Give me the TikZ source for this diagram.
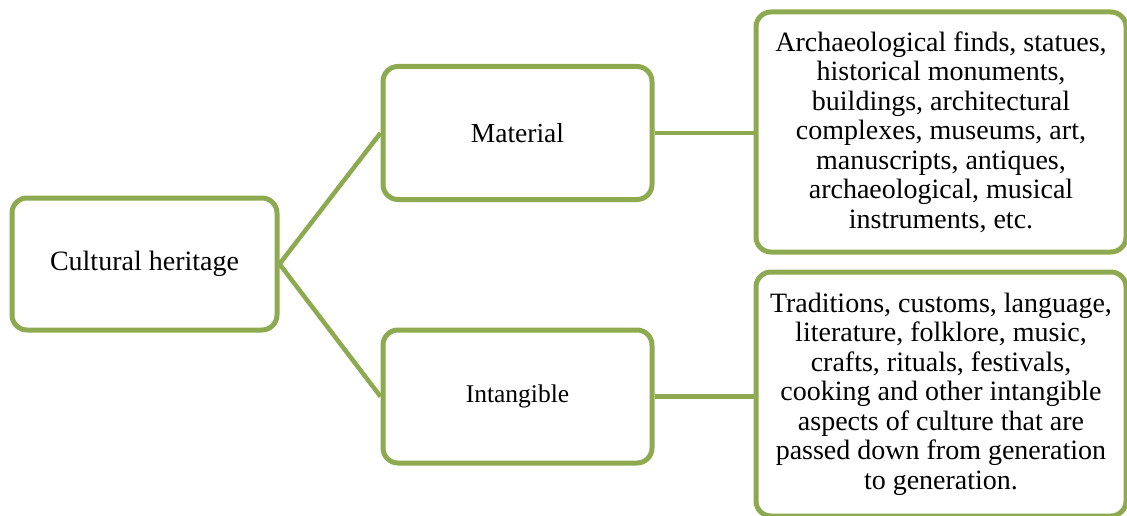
\documentclass[tikz,border=0pt]{standalone}
\usepackage{fontspec}
\setmainfont{Liberation Serif}
\definecolor{olivegreen}{HTML}{8DAA50}
\begin{document}
\begin{tikzpicture}[x=1pt,y=-1pt,
  box/.style={draw=olivegreen,line width=5pt,rounded corners=15pt,fill=white,
    inner sep=0pt,align=center,text=black},
  link/.style={draw=olivegreen,line width=4.5pt}]
\useasboundingbox (0,0) rectangle (1127,516);
\node[box,minimum width=265pt,minimum height=132pt,font=\fontsize{28}{32}\selectfont] (ch) at (144.5,264) {Cultural heritage};
\node[box,minimum width=269pt,minimum height=133pt,font=\fontsize{27.5}{32}\selectfont] (mat) at (517.5,133) {Material};
\node[box,minimum width=269pt,minimum height=133pt,font=\fontsize{25.5}{30}\selectfont] (int) at (517.5,396.5) {Intangible};
\node[box,minimum width=370pt,minimum height=240pt,font=\fontsize{28}{29.5}\selectfont] (tr) at (941,132) {Archaeological finds, statues,\\historical monuments,\\buildings, architectural\\complexes, museums, art,\\manuscripts, antiques,\\archaeological, musical\\instruments, etc.};
\node[box,minimum width=370pt,minimum height=244pt,font=\fontsize{28}{29.5}\selectfont] (br) at (941,394) {Traditions, customs, language,\\literature, folklore, music,\\crafts, rituals, festivals,\\cooking and other intangible\\aspects of culture that are\\passed down from generation\\to generation.};
\draw[link] (ch.east) -- (mat.west);
\draw[link] (ch.east) -- (int.west);
\draw[link] (mat.east) -- (mat.east -| tr.west);
\draw[link] (int.east) -- (int.east -| br.west);
\end{tikzpicture}
\end{document}
